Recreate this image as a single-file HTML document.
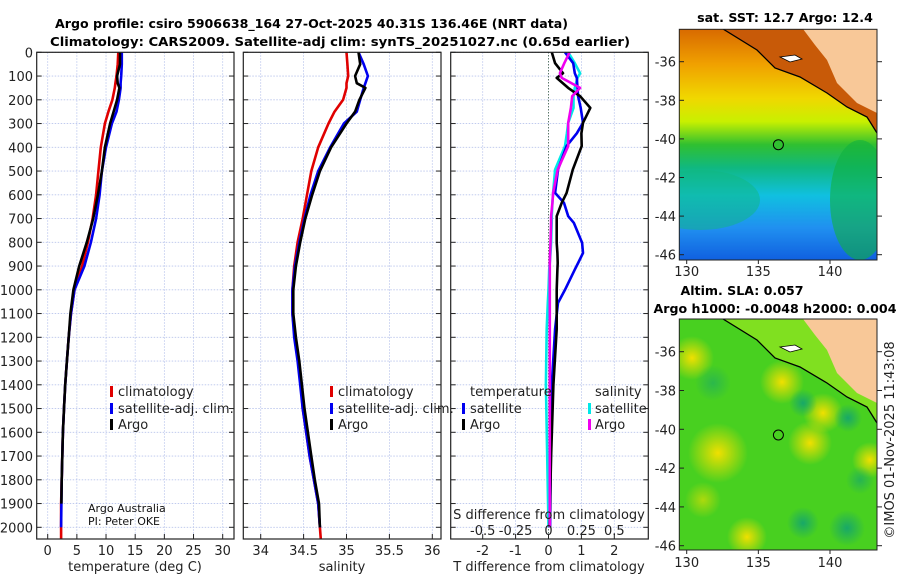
<!DOCTYPE html>
<html><head><meta charset="utf-8"><style>
body{margin:0;background:#fff}
svg{display:block;font-family:"DejaVu Sans","Liberation Sans",sans-serif}
.t{font-size:13px;fill:#222}
.b{font-weight:bold;font-size:12.6px;fill:#000}
</style></head><body>
<svg id="s" width="900" height="580" viewBox="0 0 900 580">
<defs>
<linearGradient id="sst" x1="0" y1="0" x2="0" y2="1">
<stop offset="0" stop-color="#d86a00"/><stop offset="0.15" stop-color="#f0a000"/><stop offset="0.3" stop-color="#f0d800"/>
<stop offset="0.4" stop-color="#c8f000"/><stop offset="0.5" stop-color="#30c030"/><stop offset="0.6" stop-color="#10b880"/>
<stop offset="0.72" stop-color="#10c0e0"/><stop offset="0.86" stop-color="#2090f0"/><stop offset="1" stop-color="#1060e0"/>
</linearGradient>
<radialGradient id="yb"><stop offset="0" stop-color="#f0e000"/><stop offset="1" stop-color="#f0e000" stop-opacity="0"/></radialGradient>
<radialGradient id="tb"><stop offset="0" stop-color="#18a868"/><stop offset="1" stop-color="#18a868" stop-opacity="0"/></radialGradient>
<clipPath id="c1"><rect x="36.7" y="52.3" width="197.3" height="486.7"/></clipPath>
<clipPath id="c2"><rect x="243.3" y="52.3" width="197.7" height="486.7"/></clipPath>
<clipPath id="c3"><rect x="450.7" y="52.3" width="197.6" height="486.7"/></clipPath>
<clipPath id="m1"><rect x="679.3" y="29.3" width="197.7" height="230.7"/></clipPath>
<clipPath id="m2"><rect x="679.3" y="319" width="197.7" height="231"/></clipPath>
</defs>
<text class="b" x="55" y="28" textLength="513" lengthAdjust="spacingAndGlyphs">Argo profile: csiro 5906638_164 27-Oct-2025 40.31S 136.46E (NRT data)</text>
<text class="b" x="50" y="46" textLength="580" lengthAdjust="spacingAndGlyphs">Climatology: CARS2009. Satellite-adj clim: synTS_20251027.nc (0.65d earlier)</text>
<g id="grid"></g>
<g id="lines"></g>
<g id="axes"></g>
<!-- maps -->
<g>
<g clip-path="url(#m1)">
<rect x="679.3" y="29.3" width="197.7" height="230.7" fill="url(#sst)"/>
<ellipse cx="700" cy="200" rx="60" ry="30" fill="#10b880" opacity="0.5"/>
<ellipse cx="860" cy="200" rx="30" ry="60" fill="#10b040" opacity="0.6"/>
<path d="M723,29 L757,50 L775,68 L800,77 L827,93 L847,107 L867,117 L877,133 L878,29 Z" fill="#c85a08"/>
<path d="M803,29 L815,45 L827,60 L837,83 L857,103 L877,113 L878,29 Z" fill="#f8c898"/>
<path d="M723,29 L757,50 L775,68 L800,77 L827,93 L847,107 L867,117 L877,133" fill="none" stroke="#000" stroke-width="1.3"/>
<path d="M780,57 L795,55 L802,59 L790,62 Z" fill="#fff" stroke="#000" stroke-width="0.8"/>
<circle cx="778.4" cy="144.7" r="5" fill="#30c030" stroke="#000" stroke-width="1"/>
</g>
<rect x="679.3" y="29.3" width="197.7" height="230.7" fill="none" stroke="#222" stroke-width="1"/>
</g>
<g>
<g clip-path="url(#m2)">
<rect x="679.3" y="319" width="197.7" height="231" fill="#48d020"/>
<circle cx="692" cy="358" r="22" fill="url(#yb)"/>
<circle cx="718" cy="453" r="30" fill="url(#yb)"/>
<circle cx="782" cy="382" r="22" fill="url(#yb)"/>
<circle cx="823" cy="413" r="20" fill="url(#yb)"/>
<circle cx="810" cy="443" r="22" fill="url(#yb)"/>
<circle cx="870" cy="460" r="18" fill="url(#yb)"/>
<circle cx="747" cy="537" r="20" fill="url(#yb)"/>
<circle cx="703" cy="500" r="18" fill="url(#yb)" opacity="0.6"/>
<circle cx="847" cy="528" r="18" fill="url(#tb)"/>
<circle cx="803" cy="523" r="16" fill="url(#tb)"/>
<circle cx="848" cy="418" r="14" fill="url(#tb)"/>
<circle cx="803" cy="403" r="14" fill="url(#tb)"/>
<circle cx="713" cy="383" r="18" fill="url(#tb)" opacity="0.6"/>
<circle cx="860" cy="480" r="14" fill="url(#tb)" opacity="0.7"/>
<path d="M723,319 L757,340 L775,358 L800,367 L827,383 L847,397 L867,407 L877,423 L878,319 Z" fill="#80e020"/>
<path d="M803,319 L815,335 L827,350 L837,373 L857,393 L877,403 L878,319 Z" fill="#f8c898"/>
<path d="M723,319 L757,340 L775,358 L800,367 L827,383 L847,397 L867,407 L877,423" fill="none" stroke="#000" stroke-width="1.3"/>
<path d="M780,347 L795,345 L802,349 L790,352 Z" fill="#fff" stroke="#000" stroke-width="0.8"/>
<circle cx="778.4" cy="435" r="5" fill="none" stroke="#000" stroke-width="1"/>
</g>
<rect x="679.3" y="319" width="197.7" height="231" fill="none" stroke="#222" stroke-width="1"/>
</g>
<text class="b" x="785" y="22" text-anchor="middle">sat. SST: 12.7 Argo: 12.4</text>
<text class="b" x="742" y="295" text-anchor="middle">Altim. SLA: 0.057</text>
<text class="b" x="775" y="313" text-anchor="middle">Argo h1000: -0.0048 h2000: 0.004</text>
<text class="t" transform="translate(894,440) rotate(-90)" text-anchor="middle">©IMOS 01-Nov-2025 11:43:08</text>
<g id="maxes"></g>
<!-- legends -->
<g>
<rect x="110" y="386" width="3" height="11" fill="#e00000"/><text class="t" x="118" y="396">climatology</text>
<rect x="110" y="403" width="3" height="11" fill="#0000f0"/><text class="t" x="118" y="413">satellite-adj. clim.</text>
<rect x="110" y="419" width="3" height="11" fill="#000"/><text class="t" x="118" y="429">Argo</text>
</g>
<g>
<rect x="330" y="386" width="3" height="11" fill="#e00000"/><text class="t" x="338" y="396">climatology</text>
<rect x="330" y="403" width="3" height="11" fill="#0000f0"/><text class="t" x="338" y="413">satellite-adj. clim.</text>
<rect x="330" y="419" width="3" height="11" fill="#000"/><text class="t" x="338" y="429">Argo</text>
</g>
<g>
<text class="t" x="470" y="396">temperature</text>
<rect x="462" y="403" width="3" height="11" fill="#0000f0"/><text class="t" x="470" y="413">satellite</text>
<rect x="462" y="419" width="3" height="11" fill="#000"/><text class="t" x="470" y="429">Argo</text>
<text class="t" x="595" y="396">salinity</text>
<rect x="588" y="403" width="3" height="11" fill="#00e8e8"/><text class="t" x="595" y="413">satellite</text>
<rect x="588" y="419" width="3" height="11" fill="#f000f0"/><text class="t" x="595" y="429">Argo</text>
</g>
<text x="88" y="512" font-size="11" fill="#111">Argo Australia</text>
<text x="88" y="525" font-size="11" fill="#111">PI: Peter OKE</text>
<text class="t" x="549" y="519" text-anchor="middle">S difference from climatology</text>
<text class="t" x="135" y="571" text-anchor="middle">temperature (deg C)</text>
<text class="t" x="342" y="571" text-anchor="middle">salinity</text>
<text class="t" x="549" y="571" text-anchor="middle">T difference from climatology</text>
</svg>
<script>
const depths=[0,50,100,130,150,200,250,300,400,500,600,700,800,900,1000,1100,1200,1300,1400,1500,1600,1700,1800,1900,2000,2050];
const tempClim=[12.1,12.0,11.8,11.6,11.5,11.1,10.4,9.8,9.1,8.7,8.3,7.7,6.9,5.9,4.6,4.0,3.6,3.3,3.0,2.8,2.6,2.5,2.4,2.3,2.3,2.3];
const tempSat=[12.7,12.7,12.6,12.5,12.5,12.2,11.8,11.0,10.0,9.3,8.9,8.3,7.4,6.3,4.6,4.0,3.6,3.3,3.0,2.8,2.6,2.5,2.4,2.35,2.3];
const tempArgo=[12.4,12.4,11.9,12.0,12.3,11.9,11.3,10.7,9.8,9.3,8.6,7.8,6.7,5.4,4.4,3.9,3.6,3.3,3.0,2.8,2.6,2.5,2.4,2.35];
const salClim=[35.0,35.01,35.02,35.0,35.0,34.96,34.86,34.79,34.67,34.59,34.54,34.49,34.43,34.39,34.37,34.37,34.40,34.44,34.47,34.49,34.53,34.57,34.62,34.67,34.69,34.7];
const salSat=[35.14,35.2,35.25,35.22,35.2,35.16,35.12,34.97,34.81,34.67,34.58,34.51,34.45,34.40,34.37,34.37,34.39,34.43,34.46,34.49,34.53,34.57,34.62,34.67,34.69];
const salArgo=[35.14,35.16,35.1,35.12,35.22,35.15,35.1,35.0,34.82,34.69,34.6,34.52,34.46,34.41,34.38,34.38,34.41,34.45,34.48,34.51,34.55,34.59,34.63,34.68,34.69];
const diffDepths=[0,46,88,108,150,185,234,297,341,395,494,592,634,690,718,802,845,887,915,1000,1055,1165,1400,1700,2000];
const dTArgo=[0.1,0.2,0.44,0.25,0.6,0.96,1.27,1.05,1.0,1.01,0.74,0.55,0.4,0.25,0.25,0.25,0.27,0.28,0.27,0.25,0.25,0.25,0.15,0.08,0.03];
const dTSat=[0.5,0.75,0.8,0.86,0.88,0.9,0.98,1.05,0.86,0.55,0.29,0.2,0.47,0.6,0.77,1.02,1.05,0.9,0.8,0.5,0.29,0.2,0.1,0.07,0.05];
const dSSat=[0.15,0.2,0.24,0.22,0.2,0.19,0.19,0.15,0.14,0.125,0.05,0.035,0.03,0.025,0.024,0.02,0.015,0.01,0.005,0,-0.005,-0.014,-0.02,-0.01,0];
const dSArgo=[0.16,0.12,0.087,0.1,0.24,0.18,0.17,0.15,0.15,0.15,0.07,0.035,0.03,0.02,0.02,0.015,0.012,0.01,0.01,0.01,0.01,0.01,0.01,0.01,0.01];
const tempTicks=[0,5,10,15,20,25,30];
const salTicks=[34,34.5,35,35.5,36];
const dTTicks=[-2,-1,0,1,2];
const dSTicks=[-0.5,-0.25,0,0.25,0.5];
const depthTicks=[0,100,200,300,400,500,600,700,800,900,1000,1100,1200,1300,1400,1500,1600,1700,1800,1900,2000];
const latTicks=[-36,-38,-40,-42,-44,-46];
const lonTicks=[130,135,140];

const NS='http://www.w3.org/2000/svg';
const Y=d=>52.3+d*0.2375;
const xT=v=>47.7+v*5.833;
const xS=v=>260.7+(v-34)*85.8;
const xdT=v=>548.5+v*32.9;
const xdS=v=>548.5+v*131.6;
function mk(tag,a,parent){const e=document.createElementNS(NS,tag);for(const k in a)e.setAttribute(k,a[k]);parent.appendChild(e);return e;}
const G=document.getElementById('grid'),L=document.getElementById('lines'),A=document.getElementById('axes'),MA=document.getElementById('maxes');
const panels=[{x0:36.7,x1:234,sx:xT,ticks:tempTicks,clip:'c1',n:'temperature'},{x0:243.3,x1:441,sx:xS,ticks:salTicks,clip:'c2',n:'salinity'},{x0:450.7,x1:648.3,sx:xdT,ticks:dTTicks,clip:'c3',n:'difference'}];
panels.forEach((p,i)=>{
  depthTicks.forEach(d=>{const l=mk('line',{x1:p.x0,x2:p.x1,y1:Y(d),y2:Y(d),stroke:'#b8c4ec','stroke-width':0.8,'stroke-dasharray':'1.5,1.5'},G);
    
    mk('line',{x1:p.x0,x2:p.x0+5,y1:Y(d),y2:Y(d),stroke:'#222'},A);mk('line',{x1:p.x1-5,x2:p.x1,y1:Y(d),y2:Y(d),stroke:'#222'},A);
    if(i===0){const t=mk('text',{x:33,y:Y(d)+5,'text-anchor':'end',class:'t'},A);t.textContent=d;
      }
  });
  p.ticks.forEach(v=>{const x=p.sx(v);
    const l=mk('line',{x1:x,x2:x,y1:52.3,y2:539,stroke:'#b8c4ec','stroke-width':0.8,'stroke-dasharray':'1.5,1.5'},G);
    
    mk('line',{x1:x,x2:x,y1:539,y2:534,stroke:'#222'},A);
    const t=mk('text',{x:x,y:555,'text-anchor':'middle',class:'t'},A);t.textContent=v;
    
  });
  const r=mk('rect',{x:p.x0,y:52.3,width:p.x1-p.x0,height:486.7,fill:'none',stroke:'#222','stroke-width':1.2},A);
  
});
dSTicks.forEach(v=>{const t=mk('text',{x:xdS(v),y:535,'text-anchor':'middle',class:'t'},A);t.textContent=v;
  });
const zl=mk('line',{x1:xdT(0),x2:xdT(0),y1:52.3,y2:539,stroke:'#335533','stroke-width':1,'stroke-dasharray':'1,2'},G);

function series(vals,dep,sx,color,clip,name){
  const pts=vals.map((v,i)=>sx(v).toFixed(1)+','+Y(dep[i]).toFixed(1)).join(' ');
  const e=mk('polyline',{points:pts,fill:'none',stroke:color,'stroke-width':2.6,'stroke-linejoin':'round','clip-path':'url(#'+clip+')'},L);
  
}
series(tempClim,depths,xT,'#e00000','c1','temp-climatology-line');
series(tempSat,depths,xT,'#0000f0','c1','temp-satellite-line');
series(tempArgo,depths,xT,'#000','c1','temp-argo-line');
series(salClim,depths,xS,'#e00000','c2','sal-climatology-line');
series(salSat,depths,xS,'#0000f0','c2','sal-satellite-line');
series(salArgo,depths,xS,'#000','c2','sal-argo-line');
series(dSSat,diffDepths,xdS,'#00e8e8','c3','s-diff-satellite-line');
series(dTSat,diffDepths,xdT,'#0000f0','c3','t-diff-satellite-line');
series(dTArgo,diffDepths,xdT,'#000','c3','t-diff-argo-line');
series(dSArgo,diffDepths,xdS,'#f000f0','c3','s-diff-argo-line');
// map axes
[[61.7,19.3,260,274],[351.7,19.4,550,565]].forEach(([y0,sy,yb,ly],k)=>{
  latTicks.forEach(v=>{const y=y0+(-36-v)*sy;
    mk('line',{x1:877,x2:882,y1:y,y2:y,stroke:'#222'},MA);mk('line',{x1:679.3,x2:684,y1:y,y2:y,stroke:'#222'},MA);
    const t=mk('text',{x:676,y:y+5,'text-anchor':'end',class:'t'},MA);t.textContent=v;
    });
  lonTicks.forEach(v=>{const x=686.7+(v-130)*14.33;
    mk('line',{x1:x,x2:x,y1:yb,y2:yb+4,stroke:'#222'},MA);
    const t=mk('text',{x:x,y:ly+2,'text-anchor':'middle',class:'t'},MA);t.textContent=v;
    });
});
</script>
</body></html>
